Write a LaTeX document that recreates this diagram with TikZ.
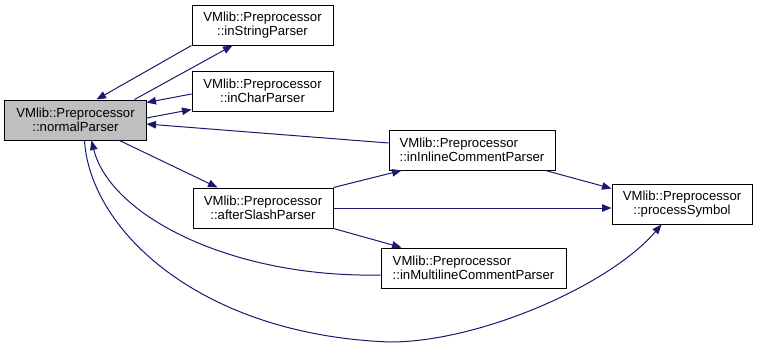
\documentclass[tikz,border=0pt]{standalone}
\usepackage{fontspec}
\setmainfont{Liberation Sans}
\usetikzlibrary{arrows.meta,calc}
\definecolor{edgeblue}{HTML}{191970}
\definecolor{curfill}{HTML}{BFBFBF}

\begin{document}
\begin{tikzpicture}[x=1bp,y=-1bp,
  fn/.style={draw=black, line width=1bp, fill=white, inner sep=0pt,
    font=\fontsize{13.2}{13.6}\selectfont, minimum height=40bp},
  fnc/.style={fn, align=center},
  fnl/.style={fn, align=left},
  call/.style={draw=edgeblue, line width=1bp,
    -{Triangle[length=9.5bp,width=7.5bp,fill=edgeblue]}},
]
\useasboundingbox (0,0) rectangle (757,347);

% functions of the call graph
\node[fnc, fill=curfill, minimum width=141bp] (np)  at (75.5,120) {VMlib::Preprocessor\\::normalParser};
\node[fnc, minimum width=141bp] (isp) at (262.5,25)  {VMlib::Preprocessor\\::inStringParser};
\node[fnc, minimum width=141bp] (icp) at (262.5,91)  {VMlib::Preprocessor\\::inCharParser};
\node[fnc, minimum width=140bp] (asp) at (263,208)   {VMlib::Preprocessor\\::afterSlashParser};
\node[fnl, minimum width=166bp] (iic) at (472,150)   {VMlib::Preprocessor\\::inInlineCommentParser};
\node[fnl, minimum width=185bp] (imc) at (473.5,268) {VMlib::Preprocessor\\::inMultilineCommentParser};
\node[fnc, minimum width=140bp] (ps)  at (682,204)   {VMlib::Preprocessor\\::processSymbol};

% calls
\draw[call] ($(np.north west)+(130,0)$) -- ($(isp.south west)+(41,0)$);
\draw[call] (isp.south west) -- ($(np.north west)+(92,0)$);
\draw[call] ($(np.east)+(0,-2)$) -- ($(icp.south west)+(0,-2)$);
\draw[call] ($(icp.west)+(0,3)$) -- ($(np.north east)+(0,3)$);
\draw[call] ($(iic.west)+(0,-7)$) -- ($(np.east)+(0,4)$);
\draw[call] ($(np.south west)+(115,0)$) -- ($(asp.north west)+(25,0)$);
\draw[call] (asp.north east) -- ($(iic.south west)+(13,0)$);
\draw[call] (asp.east) -- (ps.west |- asp.east);
\draw[call] (asp.south east) -- ($(imc.north west)+(21,0)$);
\draw[call] ($(iic.south east)+(-10,0)$) -- ($(ps.north west)+(0,5)$);
\draw[call] ($(imc.west)+(0,7)$) .. controls (230,278) and (110,215) .. ($(np.south west)+(87,0)$);
\draw[call] ($(np.south west)+(80,0)$) .. controls (90,230) and (200,335) .. (390,342)
  .. controls (480,342) and (610,285) .. ($(ps.south west)+(50,0)$);
\end{tikzpicture}
\end{document}
